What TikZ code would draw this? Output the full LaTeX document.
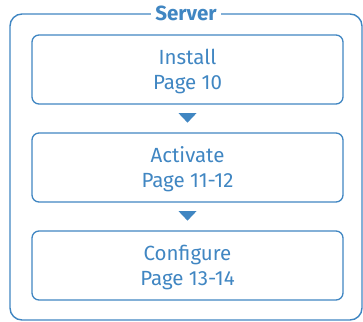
\documentclass[tikz,border=0pt]{standalone}
\usepackage{fontspec}
\setmainfont{Fira Sans}
\usetikzlibrary{calc}
\definecolor{srvblue}{RGB}{64,134,194}
\tikzset{
  stepbox/.style={draw=srvblue, line width=1.3pt, rounded corners=7pt,
    minimum width=311pt, minimum height=69pt, align=center, text depth=0pt,
    text=srvblue, font=\fontsize{20.5}{25}\selectfont, inner sep=0pt},
  outerbox/.style={draw=srvblue, line width=1.4pt, rounded corners=12pt,
    minimum width=352pt, minimum height=306pt, inner sep=0pt},
  titlelbl/.style={fill=white, text=srvblue, inner xsep=4pt, inner ysep=1pt,
    font=\fontsize{20.5}{22}\selectfont\bfseries},
  flowtri/.style={fill=srvblue}
}
\begin{document}
\begin{tikzpicture}[x=1pt,y=-1pt]
\useasboundingbox (0,0) rectangle (363,321);
\node[outerbox] (srv) at (186,167) {};
\node[titlelbl] (title) at (srv.north) {Server};
\node[stepbox] (b1) at (187.5,69.5) {Install\\Page 10};
\node[stepbox] (b2) at (187.5,167.5) {Activate\\Page 11-12};
\node[stepbox] (b3) at (187.5,265.5) {Configure\\Page 13-14};
\fill[flowtri] ($(b1.south)+(-9,8.5)$) -- ++(18,0) -- ($(b1.south)+(0,18)$) -- cycle;
\fill[flowtri] ($(b2.south)+(-9,8.5)$) -- ++(18,0) -- ($(b2.south)+(0,18)$) -- cycle;
\end{tikzpicture}
\end{document}
